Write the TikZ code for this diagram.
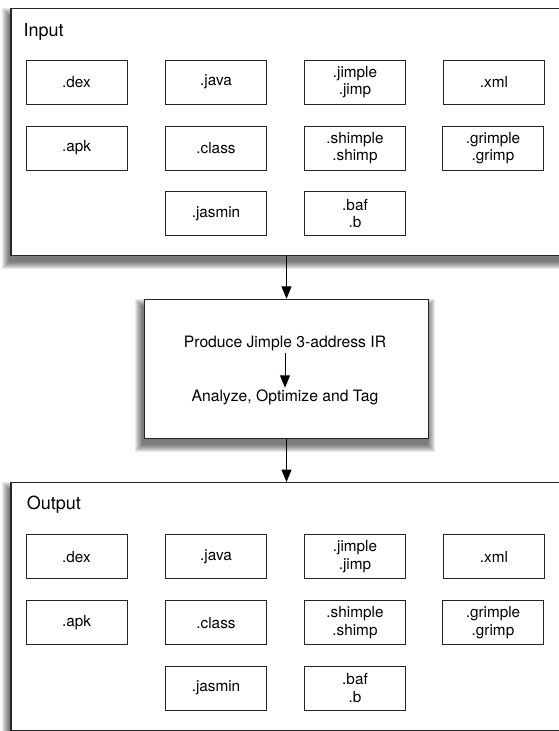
\documentclass[tikz,border=0pt]{standalone}
\usepackage{fontspec}
\setmainfont{TeX Gyre Heros}
\usetikzlibrary{arrows.meta,backgrounds}

\tikzset{
  x=1pt, y=-1pt,
  panel/.style={draw=black!85, line width=1.3pt, fill=white, inner sep=0pt,
    minimum width=551pt, minimum height=247.5pt},
  stagebox/.style={draw=black!85, line width=1.1pt, fill=white, inner sep=0pt,
    minimum width=284pt, minimum height=139pt},
  filebox/.style={draw=black!85, line width=0.9pt, fill=white, inner sep=0pt,
    minimum width=101pt, minimum height=44pt, align=center,
    font=\fontsize{15.3}{17.5}\selectfont},
  paneltitle/.style={anchor=base west, inner sep=0pt,
    font=\fontsize{18}{20}\selectfont},
  stagetext/.style={anchor=base, inner sep=2pt,
    font=\fontsize{15.7}{18}\selectfont},
  flow/.style={draw=black, line width=1pt,
    -{Triangle[width=10pt,length=12.5pt]}},
}

% soft drop shadow behind a named node, cast down and slightly left
\newcommand\softshade[1]{%
  \begin{scope}[on background layer]
    \foreach \d in {0,...,7}{
      \fill[black,opacity=0.085]
        ([shift={(-1.5pt-\d pt,-7pt+\d pt)}]#1.north west) rectangle
        ([shift={(-1.5pt+\d pt,-6pt-\d pt)}]#1.south east);
    }
  \end{scope}}

\begin{document}
\begin{tikzpicture}
  \useasboundingbox (0,0) rectangle (559,731);

  % input and output panels
  \node[panel] (in)  at (286.5,132)   {};
  \node[panel] (out) at (286.5,606.5) {};
  \node[paneltitle] (inlabel)  at (23.3,36.7) {Input};
  \node[paneltitle] (outlabel) at (26.7,509)  {Output};

  % file formats, same layout in both panels
  \foreach \p/\dy in {in/0, out/474.7}{
    \node[filebox] (\p-dex)     at (76.5,{82+\dy})  {.dex};
    \node[filebox] (\p-java)    at (216,{82+\dy})   {.java};
    \node[filebox] (\p-jimple)  at (355,{82+\dy})   {.jimple\\.jimp};
    \node[filebox] (\p-xml)     at (494,{82+\dy})   {.xml};
    \node[filebox] (\p-apk)     at (76.5,{148+\dy}) {.apk};
    \node[filebox] (\p-class)   at (216,{148+\dy})  {.class};
    \node[filebox] (\p-shimple) at (355,{148+\dy})  {.shimple\\.shimp};
    \node[filebox] (\p-grimple) at (493,{148+\dy})  {.grimple\\.grimp};
    \node[filebox] (\p-jasmin)  at (216,{213.3+\dy}) {.jasmin};
    \node[filebox] (\p-baf)     at (355,{213.3+\dy}) {.baf\\.b};
  }

  % processing stage
  \node[stagebox] (stage) at (286.5,368.8) {};
  \node[stagetext] (produce) at (285,347)   {Produce Jimple 3-address IR};
  \node[stagetext] (analyze) at (285,401.7) {Analyze, Optimize and Tag};

  \softshade{in}
  \softshade{out}
  \softshade{stage}

  % connectors
  \draw[flow] (in.south) -- (stage.north);
  \draw[flow] (stage.south) -- (out.north);
  \draw[flow] (produce.south) -- (analyze.north);
\end{tikzpicture}
\end{document}
